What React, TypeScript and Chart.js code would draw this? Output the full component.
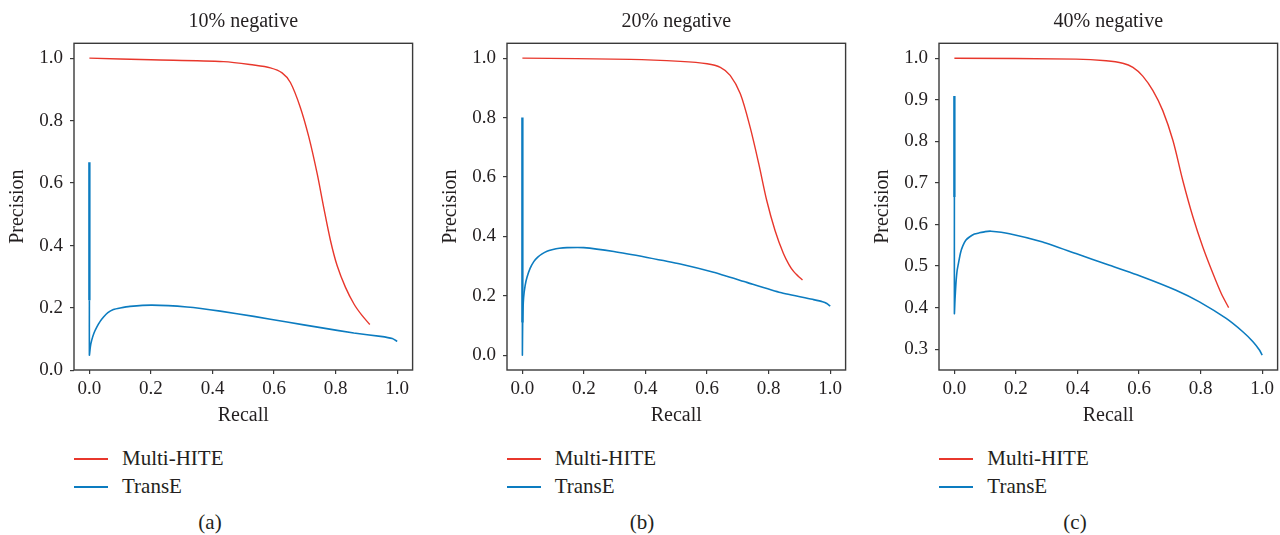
import React, { useEffect, useRef } from "react";
import { Chart, registerables } from "chart.js";

Chart.register(...registerables);

// ---------- data ----------
const panelTitles = ["10% negative", "20% negative", "40% negative"];
const panelCaptions = ["(a)", "(b)", "(c)"];
const seriesNames = ["Multi-HITE", "TransE"];

const xTicks = [0, 0.2, 0.4, 0.6, 0.8, 1.0];
const yTicksA = [0, 0.2, 0.4, 0.6, 0.8, 1.0];
const yTicksB = [0, 0.2, 0.4, 0.6, 0.8, 1.0];
const yTicksC = [0.3, 0.4, 0.5, 0.6, 0.7, 0.8, 0.9, 1.0];

// Panel (a): 10% negative
const multiRecallA = [0, 0.2, 0.436, 0.534, 0.588, 0.626, 0.653, 0.685, 0.713, 0.74, 0.761, 0.783, 0.805, 0.832, 0.86, 0.885, 0.911];
const multiPrecisionA = [1.0, 0.995, 0.989, 0.978, 0.969, 0.953, 0.922, 0.843, 0.747, 0.63, 0.523, 0.417, 0.335, 0.266, 0.212, 0.177, 0.147];
const transRecallA = [0, 0, 0, 0.003, 0.0076, 0.015, 0.024, 0.035, 0.046, 0.06, 0.078, 0.1, 0.132, 0.203, 0.317, 0.425, 0.534, 0.642, 0.751, 0.859, 0.946, 0.984, 1.0];
const transPrecisionA = [0.667, 0.225, 0.049, 0.075, 0.097, 0.12, 0.139, 0.157, 0.171, 0.185, 0.195, 0.2, 0.205, 0.209, 0.203, 0.19, 0.173, 0.155, 0.137, 0.12, 0.109, 0.102, 0.093];

// Panel (b): 20% negative
const multiRecallB = [0, 0.351, 0.513, 0.6, 0.643, 0.675, 0.708, 0.74, 0.768, 0.794, 0.821, 0.848, 0.866, 0.881, 0.896, 0.91];
const multiPrecisionB = [1.0, 0.996, 0.989, 0.981, 0.969, 0.942, 0.88, 0.767, 0.644, 0.52, 0.419, 0.342, 0.305, 0.282, 0.266, 0.253];
const transRecallB = [0, 0, 0, 0.001, 0.004, 0.009, 0.015, 0.025, 0.037, 0.05, 0.064, 0.08, 0.096, 0.12, 0.145, 0.199, 0.297, 0.405, 0.513, 0.621, 0.729, 0.838, 0.946, 0.975, 0.989, 1.0];
const transPrecisionB = [0.8, 0.11, 0.0, 0.12, 0.194, 0.235, 0.262, 0.292, 0.315, 0.33, 0.341, 0.35, 0.355, 0.36, 0.362, 0.362, 0.349, 0.329, 0.307, 0.279, 0.245, 0.211, 0.187, 0.18, 0.174, 0.165];

// Panel (c): 40% negative
const multiRecallC = [0, 0.395, 0.493, 0.547, 0.58, 0.612, 0.645, 0.677, 0.71, 0.742, 0.775, 0.807, 0.84, 0.867, 0.891];
const multiPrecisionC = [1.0, 0.998, 0.994, 0.988, 0.978, 0.957, 0.922, 0.874, 0.802, 0.706, 0.618, 0.546, 0.482, 0.434, 0.4];
const transRecallC = [0, 0, 0, 0.002, 0.005, 0.009, 0.014, 0.02, 0.027, 0.037, 0.049, 0.065, 0.081, 0.1, 0.119, 0.179, 0.287, 0.395, 0.504, 0.612, 0.72, 0.796, 0.883, 0.937, 0.97, 0.991, 1.0];
const transPrecisionC = [0.909, 0.666, 0.386, 0.42, 0.458, 0.49, 0.51, 0.532, 0.548, 0.562, 0.57, 0.577, 0.58, 0.583, 0.584, 0.578, 0.558, 0.53, 0.502, 0.474, 0.442, 0.414, 0.374, 0.342, 0.318, 0.298, 0.286];

const yRanges = [
  [0.0014, 1.0476],
  [-0.05, 1.05],
  [0.25, 1.036],
];
const xRange = [-0.05, 1.05];

// ---------- style ----------
const RED = "#e8372c";
const BLUE = "#0c7cc0";
const INK = "#231f20";
const FONT = "'Liberation Serif', 'DejaVu Serif', serif";

const CANVAS_W = 414;
const CANVAS_H = 440;
const panelLefts = [0, 432.7, 865.3];
const captionCenters = [210, 642, 1075];

const zip = (xs: number[], ys: number[]) => xs.map((x, i) => ({ x, y: ys[i] }));

const panels = [
  { multi: zip(multiRecallA, multiPrecisionA), trans: zip(transRecallA, transPrecisionA), yTicks: yTicksA },
  { multi: zip(multiRecallB, multiPrecisionB), trans: zip(transRecallB, transPrecisionB), yTicks: yTicksB },
  { multi: zip(multiRecallC, multiPrecisionC), trans: zip(transRecallC, transPrecisionC), yTicks: yTicksC },
];

const framePlugin = {
  id: "frame",
  afterDatasetsDraw(chart: any) {
    const { ctx, chartArea } = chart;
    const { left, top, right, bottom } = chartArea;
    ctx.save();
    ctx.strokeStyle = "#3a3a3a";
    ctx.lineWidth = 1.4;
    ctx.strokeRect(left, top, right - left, bottom - top);
    ctx.restore();
  },
};

function Panel({ index }: { index: number }) {
  const ref = useRef<HTMLCanvasElement | null>(null);
  useEffect(() => {
    if (!ref.current) return;
    const p = panels[index];
    const tickFont = { family: FONT, size: 19, weight: "normal" as const };
    const labelFont = { family: FONT, size: 20, weight: "normal" as const };
    const chart = new Chart(ref.current, {
      type: "scatter",
      data: {
        datasets: [
          {
            label: seriesNames[0],
            data: p.multi,
            showLine: true,
            borderColor: RED,
            backgroundColor: RED,
            borderWidth: 1.4,
            pointRadius: 0,
            tension: 0.3,
          },
          {
            label: seriesNames[1],
            data: p.trans,
            showLine: true,
            borderColor: BLUE,
            backgroundColor: BLUE,
            borderWidth: 1.6,
            pointRadius: 0,
            tension: 0.15,
            segment: {
              borderWidth: (ctx: any) => (ctx.p0DataIndex === 0 ? 2.4 : 1.6),
            },
          },
        ],
      },
      options: {
        animation: false,
        responsive: false,
        maintainAspectRatio: false,
        layout: { padding: { left: 0, right: 1.4, top: 0, bottom: 0 } },
        plugins: {
          legend: { display: false },
          tooltip: { enabled: false },
          title: {
            display: true,
            text: panelTitles[index],
            fullSize: false,
            color: INK,
            font: { family: FONT, size: 20, weight: "normal" },
            padding: { top: 10, bottom: 9.3 },
          },
        },
        scales: {
          x: {
            type: "linear",
            min: xRange[0],
            max: xRange[1],
            afterBuildTicks: (s: any) => {
              s.ticks = xTicks.map((v) => ({ value: v }));
            },
            afterFit: (s: any) => {
              s.height = 70;
            },
            ticks: {
              callback: (v: any) => Number(v).toFixed(1),
              font: tickFont,
              color: INK,
              padding: 4,
              maxRotation: 0,
              autoSkip: false,
            },
            grid: { display: true, drawOnChartArea: false, drawTicks: true, tickLength: 4, color: "#3a3a3a", lineWidth: 1.2 },
            border: { display: false },
            title: { display: true, text: "Recall", color: INK, font: labelFont, padding: { top: 0, bottom: 12 } },
          },
          y: {
            type: "linear",
            min: yRanges[index][0],
            max: yRanges[index][1],
            afterBuildTicks: (s: any) => {
              s.ticks = p.yTicks.map((v) => ({ value: v }));
            },
            afterFit: (s: any) => {
              s.width = 74;
            },
            ticks: {
              callback: (v: any) => Number(v).toFixed(1),
              font: tickFont,
              color: INK,
              padding: 7,
              autoSkip: false,
            },
            grid: { display: true, drawOnChartArea: false, drawTicks: true, tickLength: 4, color: "#3a3a3a", lineWidth: 1.2 },
            border: { display: false },
            title: { display: true, text: "Precision", color: INK, font: labelFont, padding: { top: 5.5, bottom: 0 } },
          },
        },
      },
      plugins: [framePlugin],
    } as any);
    return () => chart.destroy();
  }, [index]);

  const left = panelLefts[index];
  const plotLeft = left + 74;
  const legendRows = [
    { name: seriesNames[0], color: RED, y: 458 },
    { name: seriesNames[1], color: BLUE, y: 486 },
  ];
  return (
    <>
      <canvas
        ref={ref}
        width={CANVAS_W}
        height={CANVAS_H}
        style={{ position: "absolute", left, top: 0, width: CANVAS_W, height: CANVAS_H }}
      />
      {legendRows.map((r) => (
        <React.Fragment key={r.name}>
          <div
            style={{
              position: "absolute",
              left: plotLeft,
              top: r.y,
              width: 34,
              height: 1.5,
              backgroundColor: r.color,
            }}
          />
          <div
            style={{
              position: "absolute",
              left: plotLeft + 48,
              top: r.y - 14,
              height: 28,
              lineHeight: "28px",
              fontFamily: FONT,
              fontSize: 21,
              color: INK,
              whiteSpace: "nowrap",
            }}
          >
            {r.name}
          </div>
        </React.Fragment>
      ))}
      <div
        style={{
          position: "absolute",
          left: captionCenters[index] - 40,
          width: 80,
          top: 508,
          height: 28,
          lineHeight: "28px",
          textAlign: "center",
          fontFamily: FONT,
          fontSize: 21,
          color: INK,
        }}
      >
        {panelCaptions[index]}
      </div>
    </>
  );
}

export default function App() {
  return (
    <div
      style={{
        position: "absolute",
        left: 0,
        top: 0,
        width: 1280,
        height: 535,
        overflow: "hidden",
        background: "#ffffff",
      }}
    >
      <Panel index={0} />
      <Panel index={1} />
      <Panel index={2} />
    </div>
  );
}
